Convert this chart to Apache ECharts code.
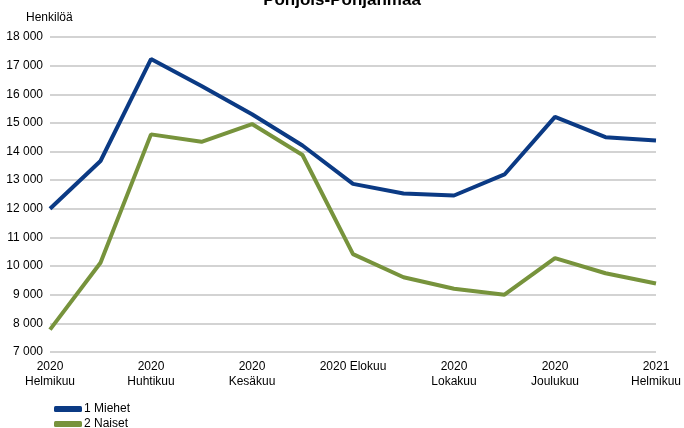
<!DOCTYPE html>
<html><head><meta charset="utf-8">
<script src="https://cdn.jsdelivr.net/npm/echarts@6/dist/echarts.min.js"></script>
<style>html,body{margin:0;padding:0;background:#fff}#c{width:684px;height:428px}</style>
</head><body><div id="c"></div>
<script>
var categories = ["2020\nHelmikuu","2020\nMaaliskuu","2020\nHuhtikuu","2020\nToukokuu","2020\nKesäkuu","2020\nHeinäkuu","2020 Elokuu","2020\nSyyskuu","2020\nLokakuu","2020\nMarraskuu","2020\nJoulukuu","2021\nTammikuu","2021\nHelmikuu"];
var miehet = [12000,13670,17230,16290,15300,14210,12870,12535,12465,13200,15210,14500,14385];
var naiset = [7780,10115,14600,14340,14960,13880,10420,9610,9210,9000,10280,9750,9390];
var seriesNames = ["1 Miehet","2 Naiset"];
var titleText = "Pohjois-Pohjanmaa";
var yName = "Henkilöä";

var chart = echarts.init(document.getElementById('c'));
var font = 'Liberation Sans, Arial, sans-serif';
chart.setOption({
  animation:false,
  textStyle:{fontFamily:font},
  title:{text:titleText,left:'center',top:-13,textStyle:{fontSize:17,fontWeight:'bold',color:'#000',fontFamily:font}},
  grid:{left:50,right:21,top:37,bottom:76},
  legend:{orient:'vertical',left:49,top:398,height:40,itemWidth:28,itemHeight:6,itemGap:3,icon:'roundRect',
    textStyle:{fontSize:12,color:'#000',fontFamily:font,padding:[0,0,0,-3]},data:seriesNames},
  xAxis:{type:'category',data:categories,boundaryGap:false,
    axisLine:{show:false},axisTick:{show:false},
    axisLabel:{interval:1,color:'#000',fontSize:12,lineHeight:15,margin:7,fontFamily:font}},
  yAxis:{type:'value',min:7000,max:18000,interval:1000,name:yName,
    nameTextStyle:{color:'#000',fontSize:12,align:'left',padding:[0,0,0,-24],fontFamily:font},nameGap:13,
    axisLabel:{color:'#000',fontSize:12,margin:7,fontFamily:font,formatter:function(v){return String(v).replace(/\B(?=(\d{3})+(?!\d))/g,' ');}},
    splitLine:{lineStyle:{color:'#c4c4c4',width:1.5}},axisLine:{show:false},axisTick:{show:false}},
  series:[
    {name:seriesNames[0],type:'line',data:miehet,symbol:'none',lineStyle:{color:'#0b3a84',width:4},itemStyle:{color:'#0b3a84'}},
    {name:seriesNames[1],type:'line',data:naiset,symbol:'none',lineStyle:{color:'#77933c',width:4},itemStyle:{color:'#77933c'}}
  ]
});
</script></body></html>
